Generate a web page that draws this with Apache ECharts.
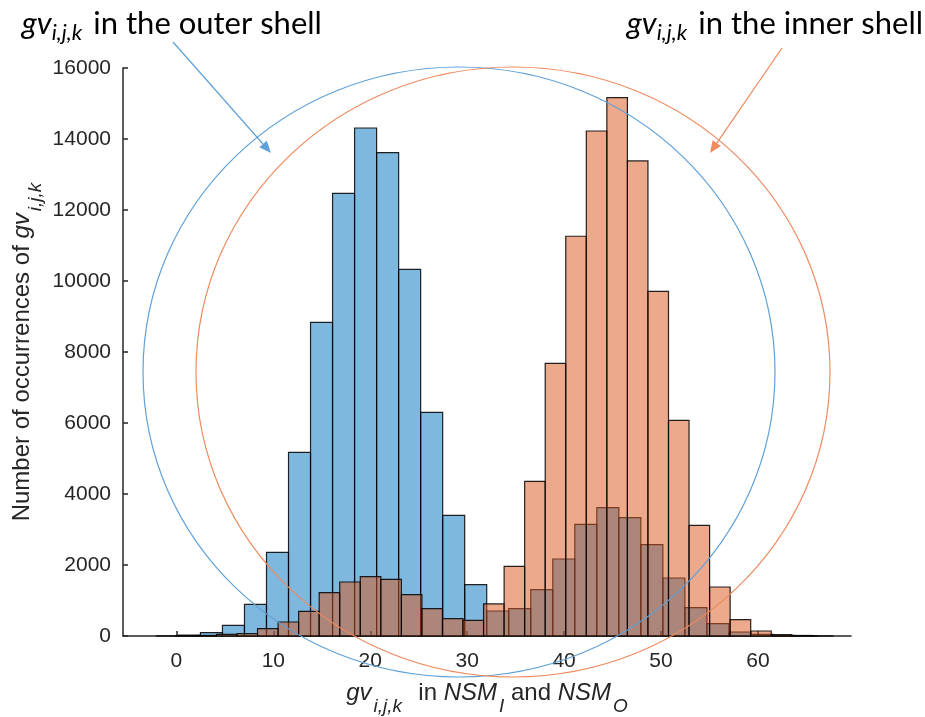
<!DOCTYPE html>
<html>
<head>
<meta charset="utf-8">
<script src="https://cdn.jsdelivr.net/npm/echarts@6/dist/echarts.min.js"></script>
<style>html,body{margin:0;padding:0;background:#fff}#chart{width:925px;height:717px}</style>
</head>
<body>
<div id="chart"></div>
<script>
// ---- data ----
const blueBinStart = -2.065;   // left edge of first bin (outer shell)
const blueBinWidth = 2.272;
const blueCounts = [5, 25, 95, 300, 890, 2357, 5175, 8837, 12470, 14310, 13617, 10330, 6300, 3400, 1446, 704, 770, 1305, 2169, 3146, 3615, 3333, 2573, 1634, 798, 347, 113, 47, 15, 5];
const orangeBinStart = -0.109; // left edge of first bin (inner shell)
const orangeBinWidth = 2.12;
const orangeCounts = [5, 15, 47, 66, 207, 394, 695, 1221, 1521, 1671, 1596, 1164, 770, 488, 441, 905, 1963, 4358, 7682, 11260, 14226, 15166, 13381, 9710, 6076, 3118, 1380, 460, 141, 38, 15, 5];
const xTicks = [0, 10, 20, 30, 40, 50, 60];
const yTicks = [0, 2000, 4000, 6000, 8000, 10000, 12000, 14000, 16000];
const xMin = -5.51, xMax = 69.6;

function toBins(start, width, counts) {
  return counts.map((c, i) => [start + i * width, start + (i + 1) * width, c]);
}

function histSeries(name, data, fill, z) {
  return {
    type: 'custom', name, data, z, silent: true,
    encode: { x: [0, 1], y: 2 },
    renderItem(params, api) {
      const a = api.coord([api.value(0), 0]);
      const b = api.coord([api.value(1), api.value(2)]);
      return {
        type: 'rect',
        shape: { x: a[0], y: b[1], width: b[0] - a[0], height: a[1] - b[1] },
        style: { fill: fill, stroke: 'rgba(0,0,0,0.85)', lineWidth: 1.2 }
      };
    }
  };
}

// ---- text helpers ----
const mctx = document.createElement('canvas').getContext('2d');
function fontStr(size, italic, family) { return (italic ? 'italic ' : '') + size + 'px "' + family + '"'; }
function measure(t, size, italic, family) { mctx.font = fontStr(size, italic, family); return mctx.measureText(t).width; }

function composeLabel(pieces, family, size, subSize, subDrop, startX, baseY) {
  const els = [];
  let x = startX;
  pieces.forEach(p => {
    const s = p.sub ? subSize : size;
    const by = baseY + (p.sub ? subDrop : 0);
    els.push({
      type: 'text', x: x, y: by - 0.3 * s, silent: true,
      style: { text: p.t, font: fontStr(s, p.it, family), fill: '#262626', align: 'left', verticalAlign: 'middle' }
    });
    x += measure(p.t, s, p.it, family) + (p.gap || 0);
  });
  return { els, width: x - startX };
}
function labelWidth(pieces, family, size, subSize) {
  return pieces.reduce((w, p) => w + measure(p.t, p.sub ? subSize : size, p.it, family) + (p.gap || 0), 0);
}

const AX = 'Liberation Sans';
const xTitle = [
  { t: 'gv', it: true, gap: 2 }, { t: 'i,j,k', it: true, sub: true, gap: 3 }, { t: '  in ', it: false },
  { t: 'NSM', it: true, gap: 2 }, { t: 'I', it: true, sub: true }, { t: ' and ', it: false },
  { t: 'NSM', it: true, gap: 2 }, { t: 'O', it: true, sub: true }
];
const yTitle = [
  { t: 'Number of occurrences of ', it: false }, { t: 'gv', it: true, gap: 2 }, { t: 'i,j,k', it: true, sub: true }
];

const chart = echarts.init(document.getElementById('chart'), null, { renderer: 'canvas' });

const grid = { left: 123, top: 68, right: 74, bottom: 81 };
const plotCx = grid.left + (925 - grid.left - grid.right) / 2;
const plotCy = grid.top + (717 - grid.top - grid.bottom) / 2;

const T = 24, TS = 19;
const xw = labelWidth(xTitle, AX, T, TS);
const xLab = composeLabel(xTitle, AX, T, TS, 11, plotCx - xw / 2, 701);
const yw = labelWidth(yTitle, AX, T, TS);
const yLab = composeLabel(yTitle, AX, T, TS, 11, 0, 0);

// top annotations (Calibri-like)
const AN = 'Lato';
function annot(x) {
  return [
    { type: 'text', x: x, y: 33 - 0.3 * 31, silent: true, style: { text: 'gv', font: fontStr(31, true, AN), fill: '#000', align: 'left', verticalAlign: 'middle' } },
    { type: 'text', x: x + 30, y: 40 - 0.3 * 22, silent: true, style: { text: 'i,j,k', font: fontStr(22, true, AN), fill: '#000', align: 'left', verticalAlign: 'middle' } }
  ];
}
function arrow(x1, y1, x2, y2, color) {
  const dx = x2 - x1, dy = y2 - y1, L = Math.hypot(dx, dy), ux = dx / L, uy = dy / L;
  const hl = 12, hw = 5;
  const bx = x2 - ux * hl, by = y2 - uy * hl;
  return [
    { type: 'line', silent: true, z: 100, shape: { x1, y1, x2: bx, y2: by }, style: { stroke: color, lineWidth: 1.2 } },
    { type: 'polygon', silent: true, z: 100, shape: { points: [[x2, y2], [bx - uy * hw, by + ux * hw], [bx + uy * hw, by - ux * hw]] }, style: { fill: color } }
  ];
}

const BLUE_LINE = '#5FA0D8', ORANGE_LINE = '#EE8A5E';

const graphics = [].concat(
  [
    { type: 'ellipse', silent: true, z: 100, shape: { cx: 459, cy: 372, rx: 316, ry: 305 }, style: { fill: 'none', stroke: BLUE_LINE, lineWidth: 1.2 } },
    { type: 'ellipse', silent: true, z: 100, shape: { cx: 513, cy: 372, rx: 317, ry: 305 }, style: { fill: 'none', stroke: ORANGE_LINE, lineWidth: 1.2 } }
  ],
  arrow(173, 42, 271, 153, BLUE_LINE),
  arrow(782, 48, 710, 153, ORANGE_LINE),
  annot(21.7),
  [{ type: 'text', x: 93.3, y: 33 - 0.3 * 31, silent: true, style: { text: 'in the outer shell', font: fontStr(31, false, AN), fill: '#000', align: 'left', verticalAlign: 'middle' } }],
  annot(626.7),
  [{ type: 'text', x: 698.3, y: 33 - 0.3 * 31, silent: true, style: { text: 'in the inner shell', font: fontStr(31, false, AN), fill: '#000', align: 'left', verticalAlign: 'middle' } }],
  xLab.els,
  [{ type: 'group', x: 30, y: plotCy + yw / 2, rotation: Math.PI / 2, children: yLab.els }]
);

const axisColor = '#262626';
chart.setOption({
  animation: false,
  grid: grid,
  xAxis: {
    type: 'value', min: xMin, max: xMax,
    axisLine: { show: true, onZero: false, lineStyle: { color: axisColor, width: 1.5 } },
    axisTick: { show: true, inside: true, length: 5, customValues: xTicks, lineStyle: { color: axisColor, width: 1.5 } },
    axisLabel: { customValues: xTicks, fontSize: 21, fontFamily: AX, color: axisColor, margin: 15, formatter: v => String(v) },
    splitLine: { show: false }
  },
  yAxis: {
    type: 'value', min: yTicks[0], max: yTicks[yTicks.length - 1], interval: 2000,
    axisLine: { show: true, onZero: false, lineStyle: { color: axisColor, width: 1.5 } },
    axisTick: { show: true, inside: true, length: 5, lineStyle: { color: axisColor, width: 1.5 } },
    axisLabel: { fontSize: 21, fontFamily: AX, color: axisColor, margin: 12, formatter: v => String(v) },
    splitLine: { show: false }
  },
  series: [
    histSeries('outer shell', toBins(blueBinStart, blueBinWidth, blueCounts), 'rgba(0,114,189,0.5)', 2),
    histSeries('inner shell', toBins(orangeBinStart, orangeBinWidth, orangeCounts), 'rgba(217,83,25,0.5)', 3)
  ],
  graphic: { elements: graphics }
});
</script>
</body>
</html>
